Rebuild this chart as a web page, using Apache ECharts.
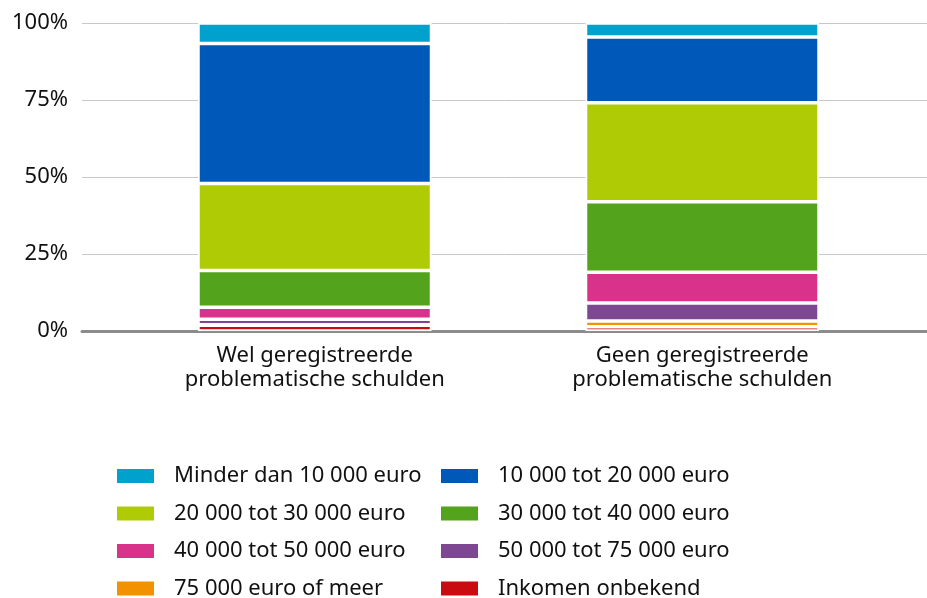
<!DOCTYPE html>
<html>
<head>
<meta charset="utf-8">
<script src="https://cdn.jsdelivr.net/npm/echarts@6/dist/echarts.min.js"></script>
<style>
  html, body { margin: 0; padding: 0; background: #fff; }
  #main { width: 927px; height: 598px; }
</style>
</head>
<body>
<div id="main"></div>
<script>
var categories = ['Wel geregistreerde\nproblematische schulden', 'Geen geregistreerde\nproblematische schulden'];

// stacked from bottom to top, percent per category
var onbekend   = [1.85, 1.36];
var meer75     = [0.2, 1.85];
var tot75      = [1.8, 5.88];
var tot50      = [3.83, 10.0];
var tot40      = [11.95, 22.9];
var tot30      = [28.3, 32.1];
var tot20      = [45.4, 21.4];
var minder10   = [6.67, 4.51];

var yTicks = [0, 25, 50, 75, 100];

var series = [
    { name: 'Inkomen onbekend', data: onbekend, color: '#c90c0f' },
    { name: '75 000 euro of meer', data: meer75, color: '#f39200' },
    { name: '50 000 tot 75 000 euro', data: tot75, color: '#7d4791' },
    { name: '40 000 tot 50 000 euro', data: tot50, color: '#d9328a' },
    { name: '30 000 tot 40 000 euro', data: tot40, color: '#53a31d' },
    { name: '20 000 tot 30 000 euro', data: tot30, color: '#afcb05' },
    { name: '10 000 tot 20 000 euro', data: tot20, color: '#0058b8' },
    { name: 'Minder dan 10 000 euro', data: minder10, color: '#00a1cd' }
].map(function (s) {
    return {
        name: s.name,
        type: 'bar',
        stack: 'total',
        xAxisIndex: 1,
        yAxisIndex: 1,
        barWidth: 233.5,
        itemStyle: { color: s.color, borderColor: '#fff', borderWidth: 1.75 },
        data: s.data
    };
});

var font = 'Noto Sans';
var legendText = { fontFamily: font, fontSize: 22, color: '#111', lineHeight: 22, padding: [0, 0, 0, 14] };

var option = {
    animation: false,
    textStyle: { fontFamily: font },
    grid: [
        { left: 82, right: 0, top: 23, bottom: 267 },
        { left: 121, right: 31, top: 23, bottom: 267 }
    ],
    xAxis: [
        {
            gridIndex: 0, type: 'value', min: 0, max: 1,
            axisLine: { show: true, lineStyle: { color: '#8c8c8c', width: 3 } },
            axisTick: { show: false }, axisLabel: { show: false }, splitLine: { show: false }
        },
        {
            gridIndex: 1, type: 'category', data: categories,
            axisLine: { show: false }, axisTick: { show: false },
            axisLabel: { fontFamily: font, fontSize: 22, color: '#111', lineHeight: 24, margin: 13 }
        }
    ],
    yAxis: [
        {
            gridIndex: 0, type: 'value', min: yTicks[0], max: yTicks[yTicks.length - 1], interval: 25,
            axisLine: { show: false }, axisTick: { show: false },
            axisLabel: { fontFamily: font, fontSize: 22, color: '#111', margin: 14, formatter: '{value}%' },
            splitLine: { lineStyle: { color: '#c8c8c8', width: 1 } }
        },
        {
            gridIndex: 1, type: 'value', min: 0, max: 100, show: false
        }
    ],
    legend: [
        {
            orient: 'vertical', left: 115, top: 465, padding: 0, height: 200,
            itemWidth: 39, itemHeight: 16, itemGap: 15.5,
            icon: 'rect', textStyle: legendText,
            data: ['Minder dan 10 000 euro', '20 000 tot 30 000 euro', '40 000 tot 50 000 euro', '75 000 euro of meer']
        },
        {
            orient: 'vertical', left: 439, top: 465, padding: 0, height: 200,
            itemWidth: 39, itemHeight: 16, itemGap: 15.5,
            icon: 'rect', textStyle: legendText,
            data: ['10 000 tot 20 000 euro', '30 000 tot 40 000 euro', '50 000 tot 75 000 euro', 'Inkomen onbekend']
        }
    ],
    series: series
};

var chart = echarts.init(document.getElementById('main'));
chart.setOption(option);
</script>
</body>
</html>
